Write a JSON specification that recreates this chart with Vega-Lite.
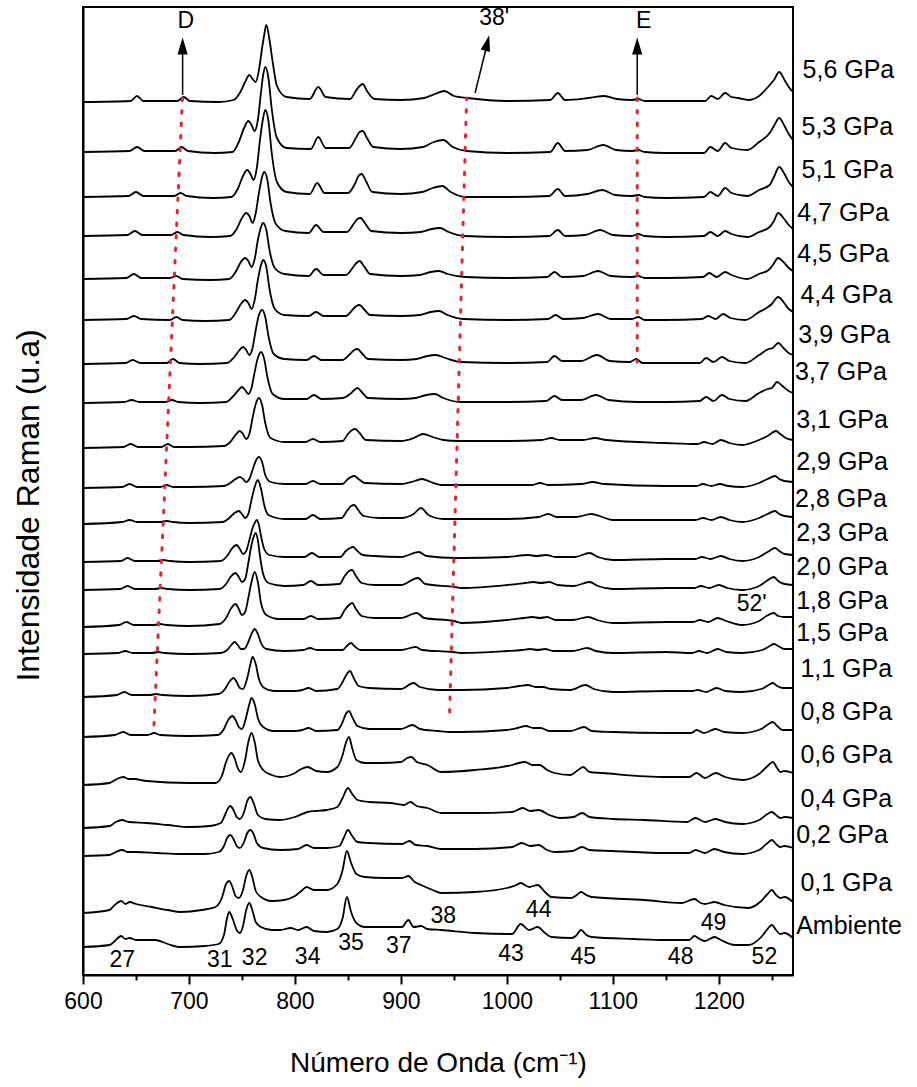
{
  "$schema": "https://vega.github.io/schema/vega-lite/v6.json",
  "width": 710,
  "height": 968,
  "autosize": "none",
  "padding": {"left": 83, "top": 7, "right": 124, "bottom": 112},
  "background": "white",
  "config": {
    "view": {"stroke": "black", "strokeWidth": 2},
    "axis": {"labelFont": "Liberation Sans", "titleFont": "Liberation Sans", "titleFontWeight": "normal", "labelColor": "black", "titleColor": "black", "domainColor": "black", "tickColor": "black", "grid": false},
    "axisY": {"titleFontSize": 32, "ticks": false, "labels": false, "domainWidth": 2, "titlePadding": 38, "titleY": 498},
    "text": {"font": "Liberation Sans", "color": "black"}
  },
  "datasets": {
    "spectra": [
      {"p": "Ambiente", "x": [600,625,630,636,640,644,650,668,680,692,715,728,733,736,738,741,745,748,751,754,757,760,763,768,778,786,796,803,811,818,830,840,845,849,853,858,866,890,901,907,912,919,925,938,970,1005,1013,1021,1029,1036,1042,1061,1065,1070,1075,1080,1120,1150,1172,1177,1182,1187,1196,1202,1215,1228,1240,1246,1250,1254,1258,1262,1270],
       "y": [28,30,34,39,36,37,35,35,31,28,29,31,40,57,63,57,45,42,49,65,72,64,53,48,45,45,47,45,48,44,43,46,57,78,63,52,48,48,48,55,48,49,46,45,42,41,51,45,48,42,38,37,39,45,40,38,36,35,35,39,36,34,38,35,30,30,38,46,50,45,41,42,37]},
      {"p": "0,1", "x": [600,625,630,636,640,644,650,665,680,692,712,725,731,735,738,741,744,747,751,754,757,760,763,768,778,790,800,806,811,818,830,840,845,849,853,858,866,885,901,907,913,919,930,938,970,1000,1009,1013,1021,1029,1036,1042,1061,1066,1070,1075,1080,1130,1165,1177,1183,1187,1196,1205,1228,1240,1246,1250,1254,1258,1262,1270],
       "y": [62,65,70,74,71,73,71,68,65,63,65,68,77,91,94,88,79,77,85,99,105,97,84,78,74,75,79,84,88,85,85,91,105,124,112,101,98,97,97,99,93,90,85,82,83,87,90,92,88,90,83,78,77,80,83,80,78,75,72,76,72,71,73,70,67,74,81,85,80,77,78,73]},
      {"p": "0,2", "x": [600,625,631,637,642,650,670,692,715,728,733,736,739,742,745,748,752,755,758,761,764,770,786,803,811,818,830,842,846,850,854,859,870,901,908,914,925,938,970,1005,1014,1022,1030,1038,1045,1062,1071,1078,1100,1150,1172,1178,1187,1196,1205,1222,1238,1246,1250,1254,1258,1262,1270],
       "y": [119,120,123,125,123,123,122,121,121,123,129,137,140,136,129,127,133,142,145,141,132,127,125,126,130,127,127,129,137,145,139,133,132,131,134,130,129,126,126,128,132,129,130,125,123,124,128,125,124,122,122,125,122,126,123,121,125,132,135,131,128,129,127]},
      {"p": "0,4", "x": [600,625,631,637,643,660,680,700,720,730,734,737,739,742,745,748,752,755,758,761,765,772,786,800,812,820,830,840,845,850,854,859,870,890,903,909,915,925,938,970,1005,1015,1022,1030,1040,1050,1063,1071,1078,1100,1130,1170,1178,1187,1197,1206,1222,1238,1246,1250,1254,1258,1262,1270],
       "y": [147,149,153,155,153,152,150,148,149,152,160,167,169,165,158,156,163,174,178,172,160,156,155,158,163,164,165,168,177,187,181,175,173,172,170,173,169,167,162,162,163,167,164,165,160,157,158,162,158,156,155,153,157,153,156,153,151,155,161,163,160,157,158,157]},
      {"p": "0,6", "x": [600,625,632,638,643,648,660,700,725,731,735,738,740,743,746,749,753,756,759,762,765,770,778,786,800,806,812,820,830,840,845,848,851,854,858,866,880,900,906,910,915,925,938,970,1005,1011,1017,1024,1031,1038,1045,1060,1066,1072,1078,1090,1150,1172,1179,1187,1197,1206,1222,1238,1246,1251,1255,1258,1262,1270],
       "y": [190,192,196,198,196,196,194,192,192,199,213,220,222,217,207,203,215,233,242,233,215,205,200,198,202,206,208,204,203,208,220,232,238,227,215,212,212,213,217,218,213,210,203,205,210,212,213,210,210,205,202,200,204,208,203,202,198,198,202,197,202,198,195,201,209,213,207,203,204,202]},
      {"p": "0,8", "x": [600,630,638,645,661,667,673,700,727,733,737,741,744,747,750,754,757,759,762,765,770,780,800,807,813,820,840,845,848,851,854,859,870,900,911,918,935,947,957,1000,1010,1018,1025,1032,1040,1060,1073,1080,1100,1150,1174,1179,1186,1197,1205,1222,1240,1247,1251,1255,1260,1270],
       "y": [238,240,243,240,240,242,240,239,240,246,255,259,255,248,246,258,271,277,271,257,248,244,244,245,247,244,245,253,261,264,258,249,246,246,250,246,244,243,243,245,247,249,247,247,244,244,248,244,243,242,242,245,242,246,243,242,246,251,253,249,245,245]},
      {"p": "1,1", "x": [600,632,639,646,663,669,675,700,728,734,738,742,745,748,751,755,758,760,763,766,771,780,800,807,813,820,840,845,849,852,855,860,870,900,912,918,935,948,957,1000,1012,1020,1027,1034,1042,1060,1074,1082,1100,1150,1175,1180,1188,1198,1206,1222,1240,1247,1251,1255,1260,1270],
       "y": [278,280,283,280,280,281,280,279,281,286,293,297,293,287,286,297,311,318,311,296,287,284,284,285,287,284,286,293,301,304,298,289,287,286,292,288,285,285,285,287,289,290,288,288,286,285,290,286,283,284,284,285,283,287,284,283,286,290,292,289,287,287]},
      {"p": "1,5", "x": [600,633,640,647,665,671,677,700,730,736,740,743,746,749,752,756,759,762,765,768,773,790,808,814,821,845,849,853,856,862,900,914,920,949,957,1000,1014,1022,1029,1036,1044,1062,1076,1084,1100,1150,1175,1181,1189,1199,1207,1222,1241,1248,1252,1256,1262,1270],
       "y": [321,322,324,322,322,323,322,321,322,325,330,333,330,326,326,333,341,346,341,332,326,324,325,327,325,325,329,332,329,325,325,328,325,323,322,324,325,326,325,326,324,324,327,324,322,323,322,324,322,326,323,322,325,329,331,329,326,326]},
      {"p": "1,8", "x": [600,634,641,648,667,673,679,700,729,735,740,744,747,750,753,756,759,762,765,768,773,785,808,815,822,842,847,851,854,857,863,875,900,915,922,950,957,1000,1016,1024,1031,1038,1046,1062,1077,1085,1100,1150,1176,1182,1190,1199,1207,1222,1238,1245,1252,1256,1262,1270],
       "y": [348,350,353,350,350,351,350,349,351,357,367,371,366,360,363,377,393,403,393,372,360,356,356,359,356,357,365,370,372,367,359,357,357,362,357,354,352,355,357,358,357,358,355,355,358,355,352,353,353,355,353,357,354,350,354,359,362,359,358,358]},
      {"p": "2,0", "x": [600,635,642,649,668,674,680,700,729,735,740,744,747,750,753,756,759,761,763,765,767,770,775,790,808,815,822,842,847,851,854,857,863,875,900,916,923,951,957,1000,1017,1025,1032,1040,1048,1063,1078,1086,1100,1150,1177,1183,1191,1200,1208,1222,1238,1245,1252,1256,1262,1270],
       "y": [385,386,389,386,386,387,386,385,386,391,399,402,398,393,396,412,430,438,442,435,419,401,392,389,390,394,390,391,399,404,405,400,392,390,390,397,391,388,387,390,392,393,392,393,390,389,393,389,386,387,387,389,387,390,387,385,389,394,398,394,391,390]},
      {"p": "2,3", "x": [600,636,642,649,670,676,682,700,730,736,741,745,748,751,754,757,760,762,764,766,768,771,776,790,809,816,823,843,848,852,855,858,864,875,900,917,924,952,957,1000,1020,1028,1037,1046,1064,1078,1086,1100,1150,1178,1184,1192,1202,1210,1222,1238,1246,1253,1257,1262,1270],
       "y": [413,414,417,414,414,415,414,413,414,419,427,430,426,421,424,435,447,452,455,450,439,426,420,418,418,422,418,418,424,427,428,425,420,419,418,423,419,417,417,418,420,419,420,418,418,422,418,415,416,416,418,416,419,416,414,418,423,427,424,421,420]},
      {"p": "2,8", "x": [600,637,644,651,673,679,685,700,732,738,743,747,750,753,756,759,762,765,768,771,775,790,810,817,824,844,849,853,856,859,865,880,900,912,919,926,940,953,960,1000,1030,1039,1047,1065,1080,1090,1100,1150,1178,1185,1193,1202,1210,1222,1238,1246,1253,1257,1262,1270],
       "y": [451,453,455,453,453,454,453,452,453,457,462,464,461,457,461,475,488,495,486,470,460,456,456,460,456,457,464,469,470,466,459,457,457,461,467,460,456,456,456,456,458,461,458,458,461,458,455,455,455,457,455,458,455,453,457,461,464,461,459,458]},
      {"p": "2,9", "x": [600,637,644,651,673,679,685,700,733,739,744,748,751,754,757,760,763,766,769,772,777,790,810,817,824,845,850,856,860,866,900,913,920,928,940,953,1000,1024,1031,1039,1070,1081,1092,1150,1179,1185,1193,1201,1209,1222,1238,1246,1253,1257,1262,1270],
       "y": [487,488,491,488,488,490,488,488,489,492,496,498,496,493,496,505,514,518,513,500,493,491,491,494,491,491,496,499,496,492,491,494,496,493,490,490,490,490,492,490,491,493,491,489,489,491,489,491,489,488,492,496,499,496,494,493]},
      {"p": "3,1", "x": [600,638,645,652,674,680,686,700,733,739,744,748,751,754,757,760,763,766,769,772,777,790,810,817,824,845,850,854,857,861,867,900,912,921,930,940,954,1000,1033,1042,1050,1072,1083,1094,1150,1180,1186,1194,1202,1210,1222,1238,1246,1254,1258,1263,1270],
       "y": [527,528,531,528,528,531,528,528,529,533,540,544,541,536,541,557,571,577,570,552,537,533,533,536,533,534,541,545,546,542,535,534,537,541,538,535,534,534,535,537,535,535,537,535,532,531,533,531,535,532,530,535,539,544,541,537,535]},
      {"p": "3,7", "x": [600,639,646,653,678,684,690,710,735,741,746,750,753,756,759,762,765,768,771,774,779,790,811,818,825,845,852,856,859,863,869,900,914,924,932,940,956,1000,1037,1045,1052,1070,1084,1096,1124,1150,1182,1188,1195,1203,1210,1225,1238,1246,1250,1255,1260,1266,1270],
       "y": [572,573,575,573,573,575,573,572,573,578,584,588,585,581,587,603,617,623,616,598,581,576,576,580,576,577,581,585,587,583,577,576,577,580,581,577,573,573,574,579,575,575,580,575,573,573,574,578,574,580,576,574,582,586,587,593,589,584,582]},
      {"p": "3,9", "x": [600,640,647,654,679,685,691,710,736,742,747,751,754,757,760,763,766,769,772,775,780,790,811,818,825,845,852,856,859,863,869,900,915,925,933,942,957,1000,1038,1045,1052,1070,1085,1097,1116,1122,1128,1150,1182,1188,1195,1203,1210,1225,1238,1247,1251,1256,1261,1266,1270],
       "y": [611,612,615,612,612,616,612,611,612,617,624,628,625,620,627,645,660,665,658,639,621,616,615,619,615,615,621,625,626,622,616,615,616,619,620,617,613,612,613,619,614,614,620,614,613,616,612,612,612,617,613,618,614,612,620,626,627,632,627,622,620]},
      {"p": "4,4", "x": [600,641,648,655,682,688,694,715,738,744,749,753,756,759,762,765,768,770,773,776,781,790,813,820,827,848,855,858,861,865,871,900,918,928,936,944,959,1000,1039,1046,1053,1072,1086,1098,1118,1124,1130,1150,1184,1190,1197,1204,1211,1225,1238,1245,1250,1256,1261,1266,1270],
       "y": [655,656,659,656,655,658,655,654,655,662,671,675,672,666,675,695,710,715,708,686,666,660,659,663,659,659,666,669,670,666,660,659,660,663,664,660,656,655,656,660,656,657,661,656,656,658,655,655,656,659,656,661,657,655,663,667,671,678,673,666,663]},
      {"p": "4,5", "x": [600,641,648,655,682,688,694,720,738,744,749,753,756,759,762,765,768,770,773,776,781,790,813,820,827,848,855,858,861,865,871,900,918,928,936,944,961,1000,1038,1045,1052,1072,1086,1098,1118,1124,1130,1150,1185,1191,1198,1206,1212,1227,1238,1247,1251,1256,1261,1266,1270],
       "y": [696,697,701,697,697,699,696,695,696,703,713,717,714,708,716,735,748,752,745,725,707,701,699,706,700,700,708,712,714,709,701,699,700,703,704,701,698,697,698,703,698,699,704,699,698,699,697,697,698,702,698,703,700,696,701,705,710,717,713,707,704]},
      {"p": "4,7", "x": [600,642,649,656,683,689,695,720,739,745,750,754,757,760,763,766,769,771,774,777,782,791,813,820,827,849,856,859,862,866,872,900,919,929,937,945,960,1000,1040,1048,1055,1074,1088,1100,1118,1124,1130,1150,1186,1192,1199,1206,1212,1227,1238,1248,1252,1256,1261,1266,1270],
       "y": [739,740,744,740,740,743,740,738,739,746,757,762,759,752,762,782,798,803,795,772,751,744,742,750,743,743,752,756,757,752,744,742,743,746,747,743,739,738,739,745,739,740,745,740,739,741,739,738,739,743,739,744,741,738,743,748,754,762,757,750,746]},
      {"p": "5,1", "x": [600,643,650,657,686,692,698,722,740,746,751,755,758,761,764,767,770,772,775,778,783,792,814,821,828,850,857,860,863,867,873,900,920,930,939,947,961,1000,1040,1048,1055,1076,1090,1102,1118,1124,1130,1150,1186,1192,1199,1206,1212,1227,1238,1248,1252,1257,1262,1266,1270],
       "y": [778,779,783,779,779,782,779,777,778,786,799,805,801,795,807,835,857,865,854,823,793,783,781,792,782,782,792,799,801,794,783,781,783,787,789,783,778,778,779,786,779,781,785,780,779,780,778,777,778,783,779,787,782,779,785,790,798,808,801,793,788]},
      {"p": "5,3", "x": [600,644,651,658,687,693,699,724,741,747,752,756,759,762,765,768,770,772,775,778,783,792,815,822,829,851,858,861,864,868,874,900,921,931,940,949,962,1000,1041,1048,1055,1076,1091,1103,1118,1124,1130,1150,1186,1192,1199,1206,1212,1227,1238,1248,1252,1257,1262,1266,1270],
       "y": [823,824,828,824,824,828,824,822,823,833,847,854,850,844,855,883,900,908,897,867,837,827,826,838,827,827,838,843,844,837,828,826,828,833,835,828,824,822,823,832,824,825,830,825,824,825,823,822,822,828,824,832,827,825,833,842,849,857,849,841,835]},
      {"p": "5,6", "x": [600,645,651,657,689,695,701,728,742,748,753,757,760,763,766,769,771,773,776,779,783,792,814,822,829,852,858,861,864,868,875,900,922,932,941,950,963,1000,1041,1048,1055,1077,1092,1104,1118,1124,1130,1150,1187,1193,1199,1206,1212,1218,1228,1238,1248,1252,1257,1262,1266,1270],
       "y": [873,874,879,874,874,878,874,873,875,882,893,900,896,893,905,927,940,950,935,913,889,878,876,888,878,876,885,889,891,884,876,875,877,881,884,879,877,874,875,882,875,877,879,876,875,876,874,874,874,879,876,882,878,877,875,879,890,895,903,895,888,883]}
    ],
    "guides": [
      {"g": "D", "x": 694, "y": 880}, {"g": "D", "x": 667, "y": 250},
      {"g": "38'", "x": 962, "y": 877}, {"g": "38'", "x": 946, "y": 263},
      {"g": "E", "x": 1123, "y": 877}, {"g": "E", "x": 1123, "y": 613}
    ],
    "shafts": [
      {"x": 694, "y": 880, "x2": 694, "y2": 922},
      {"x": 1123, "y": 880, "x2": 1123, "y2": 922},
      {"x": 970, "y": 882, "x2": 980, "y2": 925}
    ],
    "heads": [
      {"x": 694, "y": 929}, {"x": 1123, "y": 929}
    ],
    "heads2": [
      {"x": 981.5, "y": 932}
    ],
    "notes": [
      {"t": "27", "x": 637, "y": 15}, {"t": "31", "x": 729, "y": 15}, {"t": "32", "x": 762, "y": 17},
      {"t": "34", "x": 812, "y": 18}, {"t": "35", "x": 853, "y": 32}, {"t": "37", "x": 898, "y": 29},
      {"t": "38", "x": 940, "y": 59}, {"t": "43", "x": 1004, "y": 21}, {"t": "44", "x": 1030, "y": 65},
      {"t": "45", "x": 1072, "y": 18}, {"t": "48", "x": 1164, "y": 18}, {"t": "49", "x": 1195, "y": 52},
      {"t": "52", "x": 1243, "y": 18}, {"t": "52'", "x": 1231, "y": 371},
      {"t": "D", "x": 697, "y": 954}, {"t": "38'", "x": 988, "y": 957}, {"t": "E", "x": 1129, "y": 954}
    ],
    "labels": [
      {"t": "5,6 GPa", "x": 1279, "y": 905}, {"t": "5,3 GPa", "x": 1278, "y": 848}, {"t": "5,1 GPa", "x": 1278, "y": 805},
      {"t": "4,7 GPa", "x": 1274, "y": 762}, {"t": "4,5 GPa", "x": 1274, "y": 721}, {"t": "4,4 GPa", "x": 1277, "y": 680},
      {"t": "3,9 GPa", "x": 1275, "y": 640}, {"t": "3,7 GPa", "x": 1272, "y": 603}, {"t": "3,1 GPa", "x": 1273, "y": 555},
      {"t": "2,9 GPa", "x": 1273, "y": 513}, {"t": "2,8 GPa", "x": 1272, "y": 476}, {"t": "2,3 GPa", "x": 1273, "y": 442},
      {"t": "2,0 GPa", "x": 1273, "y": 408}, {"t": "1,8 GPa", "x": 1273, "y": 374}, {"t": "1,5 GPa", "x": 1273, "y": 342},
      {"t": "1,1 GPa", "x": 1277, "y": 306}, {"t": "0,8 GPa", "x": 1277, "y": 263}, {"t": "0,6 GPa", "x": 1277, "y": 220},
      {"t": "0,4 GPa", "x": 1277, "y": 176}, {"t": "0,2 GPa", "x": 1273, "y": 140}, {"t": "0,1 GPa", "x": 1277, "y": 92},
      {"t": "Ambiente", "x": 1273, "y": 49}
    ]
  },
  "layer": [
    {
      "data": {"name": "spectra"},
      "transform": [{"flatten": ["x", "y"]}],
      "mark": {"type": "line", "color": "black", "strokeWidth": 1.8, "interpolate": "monotone"},
      "encoding": {
        "x": {"field": "x", "type": "quantitative", "title": "Número de Onda (cm⁻¹)", "scale": {"domain": [600, 1270], "nice": false, "zero": false},
              "axis": {"values": [600, 650, 700, 750, 800, 850, 900, 950, 1000, 1050, 1100, 1150, 1200, 1250], "format": "d", "labelExpr": "datum.value % 100 === 0 ? datum.label : ''", "labelFontSize": 23, "titleFontSize": 28, "tickSize": {"condition": {"test": "datum.value % 100 === 0", "value": 9}, "value": 5}, "tickWidth": 2, "domainWidth": 2, "labelPadding": 6, "titlePadding": 36, "labelFlush": false}},
        "y": {"field": "y", "type": "quantitative", "title": "Intensidade Raman (u.a)", "scale": {"domain": [0, 968], "nice": false, "zero": false}},
        "detail": {"field": "p"}
      }
    },
    {
      "data": {"name": "guides"},
      "mark": {"type": "line", "color": "#e3262c", "strokeWidth": 3, "strokeDash": [2.5, 10], "strokeCap": "round"},
      "encoding": {
        "x": {"field": "x", "type": "quantitative", "title": "Número de Onda (cm⁻¹)"},
        "y": {"field": "y", "type": "quantitative", "title": "Intensidade Raman (u.a)"},
        "detail": {"field": "g"}
      }
    },
    {
      "data": {"name": "shafts"},
      "mark": {"type": "rule", "color": "black", "strokeWidth": 1.5},
      "encoding": {
        "x": {"field": "x", "type": "quantitative", "title": "Número de Onda (cm⁻¹)"},
        "y": {"field": "y", "type": "quantitative", "title": "Intensidade Raman (u.a)"},
        "x2": {"field": "x2"},
        "y2": {"field": "y2"}
      }
    },
    {
      "data": {"name": "heads"},
      "mark": {"type": "point", "shape": "M0,-1L0.6,1L-0.6,1Z", "filled": true, "color": "black", "size": 289, "opacity": 1},
      "encoding": {
        "x": {"field": "x", "type": "quantitative", "title": "Número de Onda (cm⁻¹)"},
        "y": {"field": "y", "type": "quantitative", "title": "Intensidade Raman (u.a)"}
      }
    },
    {
      "data": {"name": "heads2"},
      "mark": {"type": "point", "shape": "M0,-1L0.6,1L-0.6,1Z", "filled": true, "color": "black", "size": 256, "angle": 14, "opacity": 1},
      "encoding": {
        "x": {"field": "x", "type": "quantitative", "title": "Número de Onda (cm⁻¹)"},
        "y": {"field": "y", "type": "quantitative", "title": "Intensidade Raman (u.a)"}
      }
    },
    {
      "data": {"name": "notes"},
      "mark": {"type": "text", "fontSize": 23, "align": "center", "baseline": "middle"},
      "encoding": {
        "x": {"field": "x", "type": "quantitative", "title": "Número de Onda (cm⁻¹)"},
        "y": {"field": "y", "type": "quantitative", "title": "Intensidade Raman (u.a)"},
        "text": {"field": "t"}
      }
    },
    {
      "data": {"name": "labels"},
      "mark": {"type": "text", "fontSize": 25, "align": "left", "baseline": "middle"},
      "encoding": {
        "x": {"field": "x", "type": "quantitative", "title": "Número de Onda (cm⁻¹)"},
        "y": {"field": "y", "type": "quantitative", "title": "Intensidade Raman (u.a)"},
        "text": {"field": "t"}
      }
    }
  ]
}
